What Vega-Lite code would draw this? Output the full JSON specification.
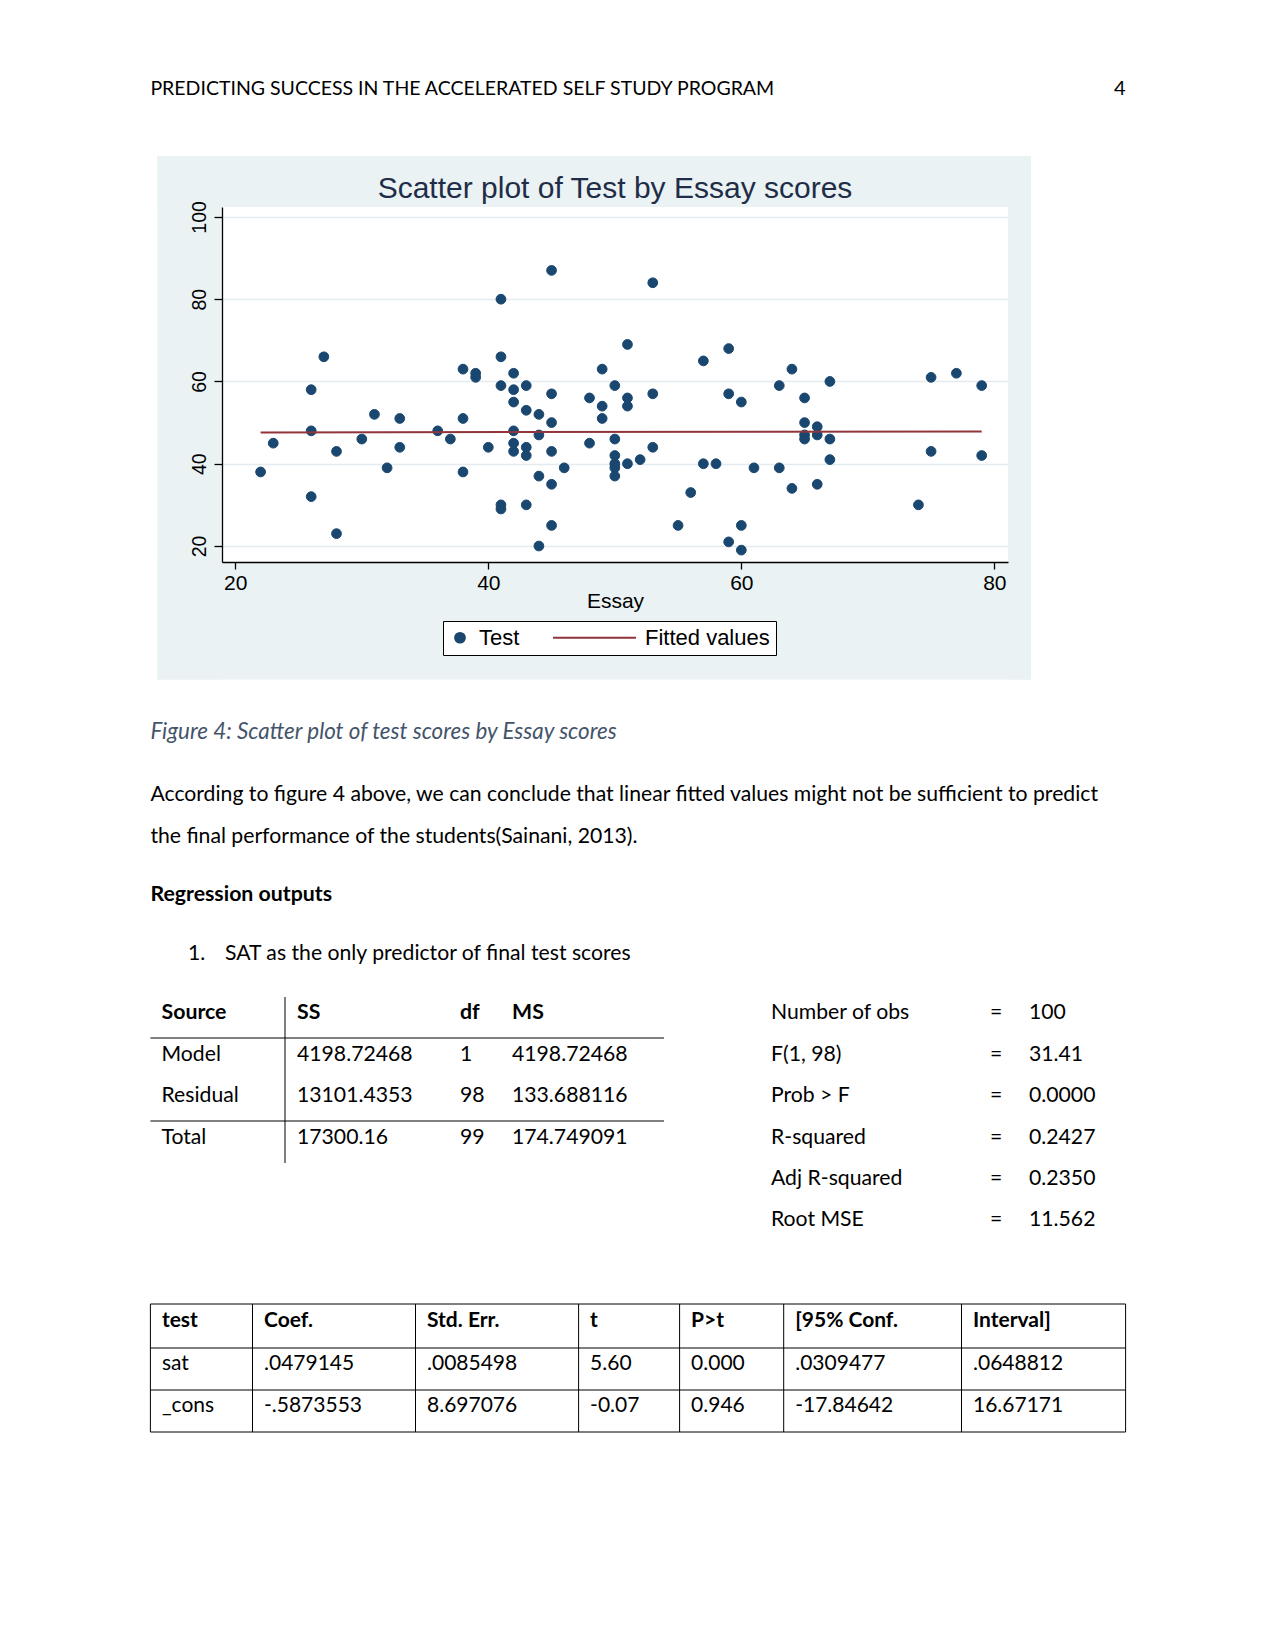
{
  "$schema": "https://vega.github.io/schema/vega-lite/v6.json",
  "background": "white",
  "padding": 0,
  "spacing": 29,
  "bounds": "flush",
  "config": {"view": {"stroke": null}},
  "vconcat": [
    {
      "width": 1275,
      "height": 178,
      "layer": [
        {
          "data": {"values": [{"xi": 0, "t": "PREDICTING SUCCESS IN THE ACCELERATED SELF STUDY PROGRAM"}]},
          "mark": {"type": "text", "align": "left", "baseline": "middle", "font": "Lato", "fontSize": 19.5, "color": "#000000"},
          "encoding": {
            "x": {"field": "xi", "type": "quantitative", "scale": {"domain": [0, 1], "range": [150.4, 1125.6], "zero": false, "nice": false}, "axis": null},
            "text": {"field": "t"}
          }
        },
        {
          "data": {"values": [{"xi": 1, "t": "4"}]},
          "mark": {"type": "text", "align": "right", "baseline": "middle", "font": "Lato", "fontSize": 20, "color": "#000000"},
          "encoding": {
            "x": {"field": "xi", "type": "quantitative", "scale": {"domain": [0, 1], "range": [150.4, 1125.6], "zero": false, "nice": false}, "axis": null},
            "text": {"field": "t"}
          }
        }
      ]
    },
    {
      "spacing": 0,
      "bounds": "flush",
      "hconcat": [
        {"width": 222, "height": 355, "data": {"values": []}, "mark": {"type": "point", "opacity": 0}, "encoding": {}},
        {
          "width": 786,
          "height": 355,
          "title": {"text": "Scatter plot of Test by Essay scores", "font": "Liberation Sans", "fontSize": 30, "fontWeight": "normal", "color": "#1f2d48", "anchor": "middle", "baseline": "alphabetic", "offset": -72, "zindex": 1},
          "resolve": {"axis": {"x": "independent", "y": "independent"}},
          "layer": [
            {
              "data": {"values": [{}]},
              "mark": {"type": "rect", "color": "#eaf2f3"},
              "encoding": {
                "x": {"datum": 13.85, "type": "quantitative", "scale": {"domain": [18.949, 81.08], "zero": false, "nice": false}, "axis": null},
                "x2": {"datum": 82.9},
                "y": {"datum": 102.42, "type": "quantitative", "scale": {"domain": [16.11, 102.42], "zero": false, "nice": false},
                      "axis": {"orient": "left", "values": [20, 40, 60, 80, 100], "grid": true, "gridColor": "#e3ebee", "gridWidth": 1.5, "labels": false, "ticks": false, "domain": false, "title": null, "zindex": 0}},
                "y2": {"datum": 114.82}
              }
            },
            {
              "data": {"values": [{}]},
              "mark": {"type": "rect", "color": "#eaf2f3"},
              "encoding": {
                "x": {"datum": 13.85, "type": "quantitative", "scale": {"domain": [18.949, 81.08], "zero": false, "nice": false}, "axis": null},
                "x2": {"datum": 82.9},
                "y": {"datum": -12.46, "type": "quantitative", "scale": {"domain": [16.11, 102.42], "zero": false, "nice": false}, "axis": null},
                "y2": {"datum": 16.11}
              }
            },
            {
              "data": {"values": [{}]},
              "mark": {"type": "rect", "color": "#eaf2f3"},
              "encoding": {
                "x": {"datum": 13.85, "type": "quantitative", "scale": {"domain": [18.949, 81.08], "zero": false, "nice": false}, "axis": null},
                "x2": {"datum": 18.949},
                "y": {"datum": -12.46, "type": "quantitative", "scale": {"domain": [16.11, 102.42], "zero": false, "nice": false}, "axis": null},
                "y2": {"datum": 114.82}
              }
            },
            {
              "data": {"values": [{}]},
              "mark": {"type": "rect", "color": "#eaf2f3"},
              "encoding": {
                "x": {"datum": 81.08, "type": "quantitative", "scale": {"domain": [18.949, 81.08], "zero": false, "nice": false}, "axis": null},
                "x2": {"datum": 82.9},
                "y": {"datum": -12.46, "type": "quantitative", "scale": {"domain": [16.11, 102.42], "zero": false, "nice": false}, "axis": null},
                "y2": {"datum": 114.82}
              }
            },
            {
              "data": {"values": [
                {"essay": 22, "test": 38}, {"essay": 23, "test": 45}, {"essay": 26, "test": 58}, {"essay": 27, "test": 66},
                {"essay": 26, "test": 48}, {"essay": 26, "test": 32}, {"essay": 28, "test": 23}, {"essay": 28, "test": 43},
                {"essay": 30, "test": 46}, {"essay": 31, "test": 52}, {"essay": 32, "test": 39}, {"essay": 33, "test": 51},
                {"essay": 33, "test": 44}, {"essay": 36, "test": 48}, {"essay": 37, "test": 46}, {"essay": 38, "test": 63},
                {"essay": 38, "test": 51}, {"essay": 38, "test": 38}, {"essay": 39, "test": 62}, {"essay": 39, "test": 61},
                {"essay": 40, "test": 44}, {"essay": 41, "test": 80}, {"essay": 41, "test": 66}, {"essay": 41, "test": 59},
                {"essay": 41, "test": 30}, {"essay": 41, "test": 29}, {"essay": 42, "test": 62}, {"essay": 42, "test": 58},
                {"essay": 42, "test": 55}, {"essay": 42, "test": 48}, {"essay": 42, "test": 45}, {"essay": 42, "test": 43},
                {"essay": 43, "test": 59}, {"essay": 43, "test": 53}, {"essay": 43, "test": 44}, {"essay": 43, "test": 42},
                {"essay": 43, "test": 30}, {"essay": 44, "test": 52}, {"essay": 44, "test": 47}, {"essay": 44, "test": 37},
                {"essay": 44, "test": 20}, {"essay": 45, "test": 87}, {"essay": 45, "test": 57}, {"essay": 45, "test": 50},
                {"essay": 45, "test": 43}, {"essay": 45, "test": 35}, {"essay": 45, "test": 25}, {"essay": 46, "test": 39},
                {"essay": 48, "test": 56}, {"essay": 48, "test": 45}, {"essay": 49, "test": 63}, {"essay": 49, "test": 54},
                {"essay": 49, "test": 51}, {"essay": 50, "test": 59}, {"essay": 50, "test": 46}, {"essay": 50, "test": 42},
                {"essay": 50, "test": 40}, {"essay": 50, "test": 39}, {"essay": 50, "test": 37}, {"essay": 51, "test": 69},
                {"essay": 51, "test": 56}, {"essay": 51, "test": 54}, {"essay": 51, "test": 40}, {"essay": 52, "test": 41},
                {"essay": 53, "test": 84}, {"essay": 53, "test": 57}, {"essay": 53, "test": 44}, {"essay": 55, "test": 25},
                {"essay": 56, "test": 33}, {"essay": 57, "test": 65}, {"essay": 57, "test": 40}, {"essay": 58, "test": 40},
                {"essay": 59, "test": 68}, {"essay": 59, "test": 57}, {"essay": 59, "test": 21}, {"essay": 60, "test": 55},
                {"essay": 60, "test": 25}, {"essay": 60, "test": 19}, {"essay": 61, "test": 39}, {"essay": 63, "test": 59},
                {"essay": 63, "test": 39}, {"essay": 64, "test": 63}, {"essay": 64, "test": 34}, {"essay": 65, "test": 56},
                {"essay": 65, "test": 50}, {"essay": 65, "test": 47}, {"essay": 65, "test": 46}, {"essay": 66, "test": 49},
                {"essay": 66, "test": 47}, {"essay": 66, "test": 35}, {"essay": 67, "test": 60}, {"essay": 67, "test": 46},
                {"essay": 67, "test": 41}, {"essay": 74, "test": 30}, {"essay": 75, "test": 61}, {"essay": 75, "test": 43},
                {"essay": 77, "test": 62}, {"essay": 79, "test": 59}, {"essay": 79, "test": 42}
              ]},
              "mark": {"type": "point", "filled": true, "opacity": 1, "strokeWidth": 1},
              "encoding": {
                "x": {"field": "essay", "type": "quantitative", "scale": {"domain": [18.949, 81.08], "zero": false, "nice": false},
                      "axis": {"orient": "bottom", "values": [20, 40, 60, 80], "grid": false, "domainColor": "#000000", "domainWidth": 1.3, "tickColor": "#000000", "tickWidth": 1.3, "tickSize": 7, "labelFont": "Liberation Sans", "labelFontSize": 21, "labelColor": "#000000", "labelPadding": 3, "labelFlush": false, "title": "Essay", "titleFont": "Liberation Sans", "titleFontSize": 21, "titleFontWeight": "normal", "titleColor": "#000000", "titlePadding": -3, "zindex": 1}},
                "y": {"field": "test", "type": "quantitative", "scale": {"domain": [16.11, 102.42], "zero": false, "nice": false},
                      "axis": {"orient": "left", "values": [20, 40, 60, 80, 100], "grid": false, "domainColor": "#000000", "domainWidth": 1.3, "tickColor": "#000000", "tickWidth": 1.3, "tickSize": 8, "labelFont": "Liberation Sans", "labelFontSize": 19.5, "labelColor": "#000000", "labelAngle": -90, "labelAlign": "center", "labelBaseline": "bottom", "labelPadding": 5, "title": null, "zindex": 1}},
                "fill": {"datum": "Test", "type": "nominal", "scale": {"domain": ["Test", "Fitted values"], "range": ["#1a476f", "#90353b"]},
                  "legend": {"title": null, "orient": "none", "legendX": 443, "legendY": 621, "direction": "horizontal", "strokeColor": "#000000", "fillColor": "#ffffff", "padding": 6, "clipHeight": 21, "labelFont": "Liberation Sans", "labelFontSize": 22, "labelColor": "#000000", "labelOffset": 8, "columnPadding": 32, "symbolStrokeWidth": 2, "symbolOpacity": 1, "zindex": 1}},
                "stroke": {"datum": "Test", "type": "nominal", "scale": {"domain": ["Test", "Fitted values"], "range": ["#1a476f", "#90353b"]},
                  "legend": {"title": null, "orient": "none", "legendX": 443, "legendY": 621, "direction": "horizontal", "strokeColor": "#000000", "fillColor": "#ffffff", "padding": 6, "clipHeight": 21, "labelFont": "Liberation Sans", "labelFontSize": 22, "labelColor": "#000000", "labelOffset": 8, "columnPadding": 32, "symbolStrokeWidth": 2, "symbolOpacity": 1, "zindex": 1}},
                "shape": {"datum": "Test", "type": "nominal", "scale": {"domain": ["Test", "Fitted values"], "range": ["circle", "stroke"]},
                  "legend": {"title": null, "orient": "none", "legendX": 443, "legendY": 621, "direction": "horizontal", "strokeColor": "#000000", "fillColor": "#ffffff", "padding": 6, "clipHeight": 21, "labelFont": "Liberation Sans", "labelFontSize": 22, "labelColor": "#000000", "labelOffset": 8, "columnPadding": 32, "symbolStrokeWidth": 2, "symbolOpacity": 1, "zindex": 1}},
                "size": {"datum": "Test", "type": "nominal", "scale": {"domain": ["Test", "Fitted values"], "range": [95, 6889]},
                  "legend": {"title": null, "orient": "none", "legendX": 443, "legendY": 621, "direction": "horizontal", "strokeColor": "#000000", "fillColor": "#ffffff", "padding": 6, "clipHeight": 21, "labelFont": "Liberation Sans", "labelFontSize": 22, "labelColor": "#000000", "labelOffset": 8, "columnPadding": 32, "symbolStrokeWidth": 2, "symbolOpacity": 1, "zindex": 1}}
              }
            },
            {
              "data": {"values": [{"essay": 22, "fit": 47.62}, {"essay": 79, "fit": 47.82}]},
              "mark": {"type": "line", "strokeWidth": 2, "color": "#90353b"},
              "encoding": {
                "x": {"field": "essay", "type": "quantitative", "scale": {"domain": [18.949, 81.08], "zero": false, "nice": false}, "axis": null},
                "y": {"field": "fit", "type": "quantitative", "scale": {"domain": [16.11, 102.42], "zero": false, "nice": false}, "axis": null}
              }
            }
          ]
        }
      ]
    },
    {
      "width": 1275,
      "height": 1414,
      "layer": [
        {
          "data": {"values": [
            {"xi": 5, "xj": 5, "yi": 5, "yj": 12},
            {"xi": 0, "xj": 11, "yi": 7, "yj": 7},
            {"xi": 0, "xj": 11, "yi": 10, "yj": 10},
            {"xi": 0, "xj": 18, "yi": 15, "yj": 15},
            {"xi": 0, "xj": 18, "yi": 17, "yj": 17},
            {"xi": 0, "xj": 18, "yi": 19, "yj": 19},
            {"xi": 0, "xj": 18, "yi": 21, "yj": 21},
            {"xi": 0, "xj": 0, "yi": 15, "yj": 21},
            {"xi": 4, "xj": 4, "yi": 15, "yj": 21},
            {"xi": 7, "xj": 7, "yi": 15, "yj": 21},
            {"xi": 10, "xj": 10, "yi": 15, "yj": 21},
            {"xi": 12, "xj": 12, "yi": 15, "yj": 21},
            {"xi": 14, "xj": 14, "yi": 15, "yj": 21},
            {"xi": 15, "xj": 15, "yi": 15, "yj": 21},
            {"xi": 18, "xj": 18, "yi": 15, "yj": 21}
          ]},
          "mark": {"type": "rule", "color": "#000000", "strokeWidth": 1},
          "encoding": {
            "x": {"field": "xi", "type": "quantitative", "scale": {"domain": [0, 1, 2, 3, 4, 5, 6, 7, 8, 9, 10, 11, 12, 13, 14, 15, 16, 17, 18], "range": [150.4, 161.5, 188, 225, 252.5, 285, 297, 415.5, 460, 512, 578.6, 664, 679.6, 771, 783.7, 961.5, 990, 1029, 1125.6], "zero": false, "nice": false}, "axis": null},
            "x2": {"field": "xj"},
            "y": {"field": "yi", "type": "quantitative", "scale": {"domain": [0, 1, 2, 3, 4, 5, 6, 7, 8, 9, 10, 11, 12, 13, 14, 15, 16, 17, 18, 19, 20, 21], "range": [496, 559, 601, 659, 718, 761, 777, 802, 819, 860, 885, 902, 927, 943, 984, 1068, 1085, 1112, 1128, 1154, 1170, 1196], "zero": false, "nice": false}, "axis": null},
            "y2": {"field": "yj"}
          }
        },
        {
          "data": {"values": [{"xi": 0, "yi": 0, "t": "Figure 4: Scatter plot of test scores by Essay scores"}]},
          "mark": {"type": "text", "align": "left", "baseline": "middle", "font": "Lato", "fontSize": 22.4, "fontStyle": "italic", "color": "#44546a"},
          "encoding": {
            "x": {"field": "xi", "type": "quantitative", "scale": {"domain": [0, 1, 2, 3, 4, 5, 6, 7, 8, 9, 10, 11, 12, 13, 14, 15, 16, 17, 18], "range": [150.4, 161.5, 188, 225, 252.5, 285, 297, 415.5, 460, 512, 578.6, 664, 679.6, 771, 783.7, 961.5, 990, 1029, 1125.6], "zero": false, "nice": false}, "axis": null},
            "y": {"field": "yi", "type": "quantitative", "scale": {"domain": [0, 1, 2, 3, 4, 5, 6, 7, 8, 9, 10, 11, 12, 13, 14, 15, 16, 17, 18, 19, 20, 21], "range": [496, 559, 601, 659, 718, 761, 777, 802, 819, 860, 885, 902, 927, 943, 984, 1068, 1085, 1112, 1128, 1154, 1170, 1196], "zero": false, "nice": false}, "axis": null},
            "text": {"field": "t"}
          }
        },
        {
          "data": {"values": [
            {"xi": 0, "yi": 1, "t": "According to figure 4 above, we can conclude that linear fitted values might not be sufficient to predict"},
            {"xi": 0, "yi": 2, "t": "the final performance of the students(Sainani, 2013)."},
            {"xi": 2, "yi": 4, "t": "1."},
            {"xi": 3, "yi": 4, "t": "SAT as the only predictor of final test scores"},
            {"xi": 1, "yi": 8, "t": "Model"}, {"xi": 6, "yi": 8, "t": "4198.72468"}, {"xi": 8, "yi": 8, "t": "1"}, {"xi": 9, "yi": 8, "t": "4198.72468"},
            {"xi": 1, "yi": 9, "t": "Residual"}, {"xi": 6, "yi": 9, "t": "13101.4353"}, {"xi": 8, "yi": 9, "t": "98"}, {"xi": 9, "yi": 9, "t": "133.688116"},
            {"xi": 1, "yi": 11, "t": "Total"}, {"xi": 6, "yi": 11, "t": "17300.16"}, {"xi": 8, "yi": 11, "t": "99"}, {"xi": 9, "yi": 11, "t": "174.749091"},
            {"xi": 13, "yi": 6, "t": "Number of obs"}, {"xi": 16, "yi": 6, "t": "="}, {"xi": 17, "yi": 6, "t": "100"},
            {"xi": 13, "yi": 8, "t": "F(1, 98)"}, {"xi": 16, "yi": 8, "t": "="}, {"xi": 17, "yi": 8, "t": "31.41"},
            {"xi": 13, "yi": 9, "t": "Prob > F"}, {"xi": 16, "yi": 9, "t": "="}, {"xi": 17, "yi": 9, "t": "0.0000"},
            {"xi": 13, "yi": 11, "t": "R-squared"}, {"xi": 16, "yi": 11, "t": "="}, {"xi": 17, "yi": 11, "t": "0.2427"},
            {"xi": 13, "yi": 13, "t": "Adj R-squared"}, {"xi": 16, "yi": 13, "t": "="}, {"xi": 17, "yi": 13, "t": "0.2350"},
            {"xi": 13, "yi": 14, "t": "Root MSE"}, {"xi": 16, "yi": 14, "t": "="}, {"xi": 17, "yi": 14, "t": "11.562"}
          ]},
          "mark": {"type": "text", "align": "left", "baseline": "middle", "font": "Lato", "fontSize": 21.2, "color": "#000000"},
          "encoding": {
            "x": {"field": "xi", "type": "quantitative", "scale": {"domain": [0, 1, 2, 3, 4, 5, 6, 7, 8, 9, 10, 11, 12, 13, 14, 15, 16, 17, 18], "range": [150.4, 161.5, 188, 225, 252.5, 285, 297, 415.5, 460, 512, 578.6, 664, 679.6, 771, 783.7, 961.5, 990, 1029, 1125.6], "zero": false, "nice": false}, "axis": null},
            "y": {"field": "yi", "type": "quantitative", "scale": {"domain": [0, 1, 2, 3, 4, 5, 6, 7, 8, 9, 10, 11, 12, 13, 14, 15, 16, 17, 18, 19, 20, 21], "range": [496, 559, 601, 659, 718, 761, 777, 802, 819, 860, 885, 902, 927, 943, 984, 1068, 1085, 1112, 1128, 1154, 1170, 1196], "zero": false, "nice": false}, "axis": null},
            "text": {"field": "t"}
          }
        },
        {
          "data": {"values": [
            {"xi": 0, "yi": 3, "t": "Regression outputs"},
            {"xi": 1, "yi": 6, "t": "Source"}, {"xi": 6, "yi": 6, "t": "SS"}, {"xi": 8, "yi": 6, "t": "df"}, {"xi": 9, "yi": 6, "t": "MS"}
          ]},
          "mark": {"type": "text", "align": "left", "baseline": "middle", "font": "Lato", "fontSize": 21.3, "fontWeight": "bold", "color": "#000000"},
          "encoding": {
            "x": {"field": "xi", "type": "quantitative", "scale": {"domain": [0, 1, 2, 3, 4, 5, 6, 7, 8, 9, 10, 11, 12, 13, 14, 15, 16, 17, 18], "range": [150.4, 161.5, 188, 225, 252.5, 285, 297, 415.5, 460, 512, 578.6, 664, 679.6, 771, 783.7, 961.5, 990, 1029, 1125.6], "zero": false, "nice": false}, "axis": null},
            "y": {"field": "yi", "type": "quantitative", "scale": {"domain": [0, 1, 2, 3, 4, 5, 6, 7, 8, 9, 10, 11, 12, 13, 14, 15, 16, 17, 18, 19, 20, 21], "range": [496, 559, 601, 659, 718, 761, 777, 802, 819, 860, 885, 902, 927, 943, 984, 1068, 1085, 1112, 1128, 1154, 1170, 1196], "zero": false, "nice": false}, "axis": null},
            "text": {"field": "t"}
          }
        },
        {
          "data": {"values": [
            {"xi": 0, "yi": 16, "t": "test"}, {"xi": 4, "yi": 16, "t": "Coef."}, {"xi": 7, "yi": 16, "t": "Std. Err."}, {"xi": 10, "yi": 16, "t": "t"},
            {"xi": 12, "yi": 16, "t": "P>t"}, {"xi": 14, "yi": 16, "t": "[95% Conf."}, {"xi": 15, "yi": 16, "t": "Interval]"}
          ]},
          "mark": {"type": "text", "align": "left", "baseline": "middle", "font": "Lato", "fontSize": 21, "fontWeight": "bold", "color": "#000000", "dx": 11.5},
          "encoding": {
            "x": {"field": "xi", "type": "quantitative", "scale": {"domain": [0, 1, 2, 3, 4, 5, 6, 7, 8, 9, 10, 11, 12, 13, 14, 15, 16, 17, 18], "range": [150.4, 161.5, 188, 225, 252.5, 285, 297, 415.5, 460, 512, 578.6, 664, 679.6, 771, 783.7, 961.5, 990, 1029, 1125.6], "zero": false, "nice": false}, "axis": null},
            "y": {"field": "yi", "type": "quantitative", "scale": {"domain": [0, 1, 2, 3, 4, 5, 6, 7, 8, 9, 10, 11, 12, 13, 14, 15, 16, 17, 18, 19, 20, 21], "range": [496, 559, 601, 659, 718, 761, 777, 802, 819, 860, 885, 902, 927, 943, 984, 1068, 1085, 1112, 1128, 1154, 1170, 1196], "zero": false, "nice": false}, "axis": null},
            "text": {"field": "t"}
          }
        },
        {
          "data": {"values": [
            {"xi": 0, "yi": 18, "t": "sat"}, {"xi": 4, "yi": 18, "t": ".0479145"}, {"xi": 7, "yi": 18, "t": ".0085498"}, {"xi": 10, "yi": 18, "t": "5.60"},
            {"xi": 12, "yi": 18, "t": "0.000"}, {"xi": 14, "yi": 18, "t": ".0309477"}, {"xi": 15, "yi": 18, "t": ".0648812"},
            {"xi": 0, "yi": 20, "t": "_cons"}, {"xi": 4, "yi": 20, "t": "-.5873553"}, {"xi": 7, "yi": 20, "t": "8.697076"}, {"xi": 10, "yi": 20, "t": "-0.07"},
            {"xi": 12, "yi": 20, "t": "0.946"}, {"xi": 14, "yi": 20, "t": "-17.84642"}, {"xi": 15, "yi": 20, "t": "16.67171"}
          ]},
          "mark": {"type": "text", "align": "left", "baseline": "middle", "font": "Lato", "fontSize": 21, "color": "#000000", "dx": 11.5},
          "encoding": {
            "x": {"field": "xi", "type": "quantitative", "scale": {"domain": [0, 1, 2, 3, 4, 5, 6, 7, 8, 9, 10, 11, 12, 13, 14, 15, 16, 17, 18], "range": [150.4, 161.5, 188, 225, 252.5, 285, 297, 415.5, 460, 512, 578.6, 664, 679.6, 771, 783.7, 961.5, 990, 1029, 1125.6], "zero": false, "nice": false}, "axis": null},
            "y": {"field": "yi", "type": "quantitative", "scale": {"domain": [0, 1, 2, 3, 4, 5, 6, 7, 8, 9, 10, 11, 12, 13, 14, 15, 16, 17, 18, 19, 20, 21], "range": [496, 559, 601, 659, 718, 761, 777, 802, 819, 860, 885, 902, 927, 943, 984, 1068, 1085, 1112, 1128, 1154, 1170, 1196], "zero": false, "nice": false}, "axis": null},
            "text": {"field": "t"}
          }
        }
      ]
    }
  ]
}
